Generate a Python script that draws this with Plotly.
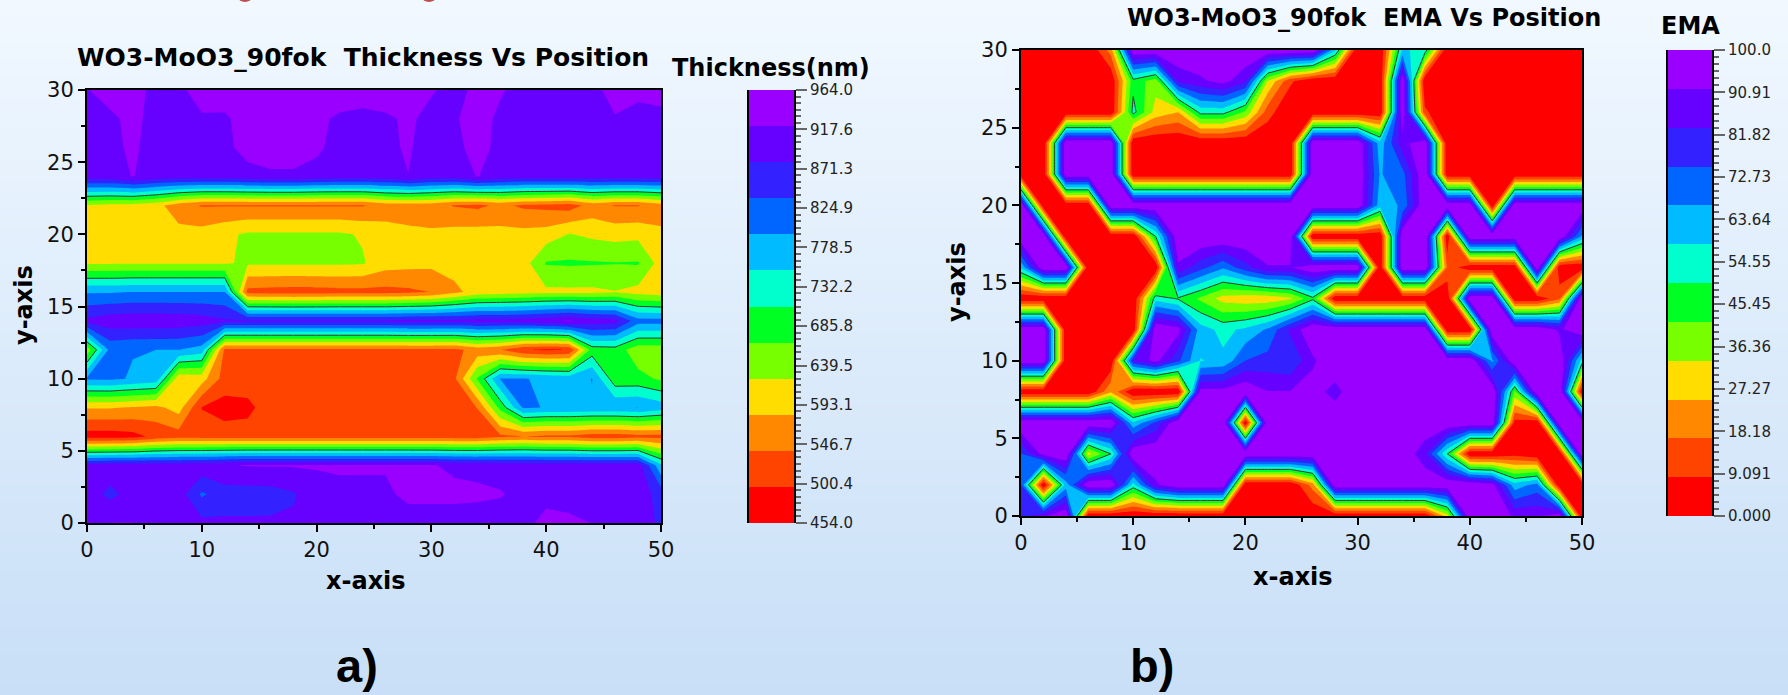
import plotly.graph_objects as go

W, H = 1788, 695

x_pos = [0,2,4,6,8,10,12,14,16,18,20,22,24,26,28,30,32,34,36,38,40,42,44,46,48,50]
y_pos = [0,2,4,6,8,10,12,14,16,18,20,22,24,26,28,30]

thickness = [
 [915,922,922,905,900,890,885,885,885,885,905,905,905,905,905,905,905,905,905,905,938,930,921,905,905,870],
 [900,868,895,900,900,830,860,860,862,875,905,915,915,915,930,930,930,928,924,912,905,905,905,905,905,860],
 [900,905,905,905,905,908,918,924,925,925,925,925,925,925,925,924,915,912,908,905,905,905,905,905,903,760],
 [475,475,482,508,520,518,515,515,515,515,515,515,515,515,515,515,515,515,530,540,530,530,515,515,525,525],
 [585,585,578,570,600,495,480,485,520,515,515,515,515,515,515,515,515,540,680,800,792,792,790,790,795,775],
 [800,802,790,780,595,600,520,520,520,520,520,520,520,520,520,520,530,670,796,796,788,780,795,680,680,660],
 [640,806,796,794,794,775,530,530,530,530,530,530,530,530,530,530,528,555,540,500,490,498,685,690,640,640],
 [890,905,908,908,905,900,885,885,885,885,885,885,885,885,890,890,890,895,895,900,912,925,905,895,810,810],
 [790,790,795,795,795,795,795,525,522,520,522,525,525,525,530,540,570,600,605,610,615,615,615,622,610,600],
 [620,620,620,620,620,620,620,630,630,630,630,630,628,600,595,592,600,600,600,605,670,672,670,668,670,605],
 [600,600,600,600,595,598,615,630,630,630,630,630,620,600,592,588,598,600,595,595,600,626,615,608,612,590],
 [620,612,610,595,558,536,536,536,536,536,536,536,536,558,558,558,536,530,548,532,528,520,555,537,537,560],
 [900,905,923,905,900,900,900,908,915,915,905,900,900,905,921,900,900,923,905,900,900,900,900,900,900,900],
 [905,912,928,905,905,905,912,935,940,940,930,905,900,915,925,905,915,930,915,900,900,900,900,905,905,905],
 [908,915,930,910,910,918,915,940,945,945,930,915,908,915,928,910,918,935,915,905,905,905,905,920,910,915],
 [920,935,930,915,915,935,945,945,945,945,945,945,945,945,935,925,910,930,925,910,910,910,915,930,930,930],
]

ema = [
 [80,90,100,0,0,0,0,0,0,0,0,0,0,0,0,0,0,0,0,30,100,100,90,90,100,0],
 [75,0,62,100,100,55,90,100,100,100,0,0,0,20,100,100,100,100,100,100,100,95,62,70,0,0],
 [75,95,100,30,50,100,100,100,100,100,100,100,100,100,100,100,100,100,85,50,0,0,5,0,0,100],
 [100,100,100,100,100,60,77,100,100,100,0,100,100,100,100,100,100,100,100,100,100,100,5,0,100,100],
 [0,0,0,0,24,0,0,0,95,95,100,92,92,96,88,100,100,100,100,100,100,100,40,100,100,0],
 [100,100,0,0,0,83,95,77,58,60,75,78,76,90,100,100,100,100,100,100,100,65,100,100,100,55],
 [100,100,0,0,0,0,100,95,62,56,60,68,85,100,100,100,100,100,100,0,0,100,100,100,90,100],
 [0,0,0,0,0,0,55,49,40,30,28,28,32,48,0,0,0,0,0,0,100,100,0,0,15,100],
 [60,100,100,0,0,0,0,90,78,68,80,91,91,100,100,100,0,100,100,15,0,0,0,100,0,0],
 [100,100,0,0,0,0,50,100,100,100,100,100,100,0,0,0,0,100,100,0,100,100,100,100,100,65],
 [100,0,0,0,100,100,100,100,100,100,100,100,100,100,100,100,62,68,100,100,100,0,100,100,100,100],
 [0,0,100,100,100,0,0,0,0,0,0,0,0,100,100,100,66,72,100,0,0,0,0,0,0,0],
 [0,0,100,100,100,0,0,0,0,0,0,0,0,100,100,100,62,88,100,0,0,0,0,0,0,0],
 [0,0,0,0,0,53,30,25,53,53,40,12,0,0,0,0,0,100,10,0,0,0,0,0,0,0],
 [0,0,0,0,0,47,37,85,90,95,85,33,10,0,0,0,0,100,0,0,0,0,0,0,0,0],
 [0,0,0,0,20,100,100,100,100,100,100,100,100,100,60,0,0,60,55,0,0,0,0,0,0,0],
]

band_colors = ["#FF0000","#FF4400","#FF8800","#FFDD00","#77FF00","#00FF22",
               "#00FFCC","#00BBFF","#0066FF","#3322FF","#6600FF","#9900FF"]

thick_ticks = [454.0,500.4,546.7,593.1,639.5,685.8,732.2,778.5,824.9,871.3,917.6,964.0]
thick_labels = ["454.0","500.4","546.7","593.1","639.5","685.8","732.2","778.5","824.9","871.3","917.6","964.0"]
ema_ticks = [0,9.091,18.18,27.27,36.36,45.45,54.55,63.64,72.73,81.82,90.91,100]
ema_labels = ["0.000","9.091","18.18","27.27","36.36","45.45","54.55","63.64","72.73","81.82","90.91","100.0"]

FONT = "DejaVu Sans"
ARIAL = "Liberation Sans"


def dom_x(a, b):
    return [a / W, b / W]


def dom_y(top, bottom):
    return [1 - bottom / H, 1 - top / H]


fig = go.Figure()

# page background gradient; this full-page axis pair is also the pixel frame for the texts
fig.add_trace(go.Heatmap(x=[0, 1], y=[0, 1], z=[[0, 0], [1, 1]], zsmooth="best", showscale=False,
                         colorscale=[[0, "#F1F8FF"], [1, "#C8DFF7"]], hoverinfo="skip", xaxis="x", yaxis="y"))
fig.update_layout(
    xaxis=dict(domain=[0, 1], range=[0, 1], visible=False, fixedrange=True, automargin=False),
    yaxis=dict(domain=[0, 1], range=[1, 0], visible=False, fixedrange=True, automargin=False),
)

discrete_scale = [[i / 11, c] for i, c in enumerate(band_colors)]


def panel(n, z, vmin, vmax, ticks, labels, box, barbox):
    xa, ya = f"x{n}", f"y{n}"
    xb, yb = f"x{n+1}", f"y{n+1}"
    step = (vmax - vmin) / 12
    fig.add_trace(go.Contour(x=x_pos, y=y_pos, z=z, xaxis=xa, yaxis=ya, autocontour=False,
                             contours=dict(start=vmin + step, end=vmax - step, size=step,
                                           coloring="fill", showlines=False),
                             line=dict(width=0, smoothing=0), colorscale=discrete_scale, showscale=False,
                             hoverinfo="skip"))
    mid = (vmin + vmax) / 2
    fig.add_trace(go.Contour(x=x_pos, y=y_pos, z=z, xaxis=xa, yaxis=ya, autocontour=False,
                             contours=dict(start=mid, end=mid, size=step, coloring="none"),
                             line=dict(color="#333333", width=1, smoothing=0), showscale=False, hoverinfo="skip"))
    edges = [vmin + step * i for i in range(13)]
    fig.add_trace(go.Heatmap(x=[0, 1], y=edges, z=[[i] for i in range(12)], xaxis=xb, yaxis=yb,
                             colorscale=discrete_scale, zmin=0, zmax=11, showscale=False, hoverinfo="skip"))
    l, r, t, b = box
    axis_common = dict(showgrid=False, zeroline=False, showline=True, linecolor="black", linewidth=2,
                       mirror=True, ticks="outside", tickcolor="black", tickwidth=2, ticklen=7, automargin=False,
                       tickfont=dict(family=FONT, size=21, color="#111111"), fixedrange=True)
    fig.update_layout({
        f"xaxis{n}": dict(domain=dom_x(l, r), range=[0, 50], anchor=ya, tick0=0, dtick=10,
                          minor=dict(dtick=5, ticks="outside", ticklen=4, tickwidth=2, tickcolor="black", showgrid=False),
                          **axis_common),
        f"yaxis{n}": dict(domain=dom_y(t, b), range=[0, 30], anchor=xa, tick0=0, dtick=5,
                          minor=dict(dtick=2.5, ticks="outside", ticklen=4, tickwidth=2, tickcolor="black", showgrid=False),
                          **axis_common),
    })
    bl, br, bt, bb = barbox
    span = (vmax - vmin) / 11
    fig.update_layout({
        f"xaxis{n+1}": dict(domain=dom_x(bl, br), range=[0, 1], anchor=yb, visible=False, fixedrange=True, automargin=False),
        f"yaxis{n+1}": dict(domain=dom_y(bt, bb), range=[vmin, vmax], anchor=xb, side="right", automargin=False,
                            tickmode="array", tickvals=ticks, ticktext=labels, ticks="outside",
                            ticklen=11, tickwidth=2, tickcolor="#666666", showgrid=False, zeroline=False,
                            showline=True, linecolor="black", linewidth=2, mirror=True, fixedrange=True,
                            tickfont=dict(family=FONT, size=15, color="#222222"),
                            minor=dict(tick0=vmin, dtick=span / 6, ticks="outside", ticklen=5, tickwidth=2,
                                       tickcolor="#666666", showgrid=False)),
    })


panel(2, thickness, 454.0, 964.0, thick_ticks, thick_labels, (87, 661, 90, 523), (749, 794, 90, 523))
panel(4, ema, 0.0, 100.0, ema_ticks, ema_labels, (1021, 1582, 50, 516), (1668, 1712, 50, 516))


def note(text, x, y, size, family=FONT, angle=0, color="#000000"):
    # placed on the full-page axes so that the text never pushes the margins
    fig.add_annotation(text=f"<b>{text}</b>", x=x / W, y=y / H, xref="x", yref="y",
                       showarrow=False, textangle=angle, xanchor="center", yanchor="middle",
                       font=dict(family=family, size=size, color=color))


note("WO3-MoO3_90fok  Thickness Vs Position", 363, 57, 25)
note("Thickness(nm)", 771, 68, 24)
note("x-axis", 366, 581, 24)
note("y-axis", 24, 305, 24, angle=-90)
note("a)", 357, 665, 47, family=ARIAL)
note("WO3-MoO3_90fok  EMA Vs Position", 1364, 18, 24)
note("EMA", 1690, 26, 24)
note("x-axis", 1293, 577, 24)
note("y-axis", 957, 282, 24, angle=-90)
note("b)", 1152, 665, 47, family=ARIAL)

# the descenders of a cut-off red heading at the very top of the page
for cx in (245, 429):
    fig.add_shape(type="circle", xref="paper", yref="paper", x0=(cx - 7) / W, x1=(cx + 7) / W,
                  y0=1 - 2 / H, y1=1 + 8 / H, fillcolor="#C44B4B", line=dict(width=0), layer="above")

fig.update_layout(width=W, height=H, margin=dict(l=0, r=0, t=0, b=0, pad=0), autosize=False,
                  paper_bgcolor="#DCEBFB", plot_bgcolor="rgba(0,0,0,0)", showlegend=False)

fig.write_html("out.html", config={"displayModeBar": False},
               post_script="document.body.style.margin='0';document.documentElement.style.overflow='hidden';")
